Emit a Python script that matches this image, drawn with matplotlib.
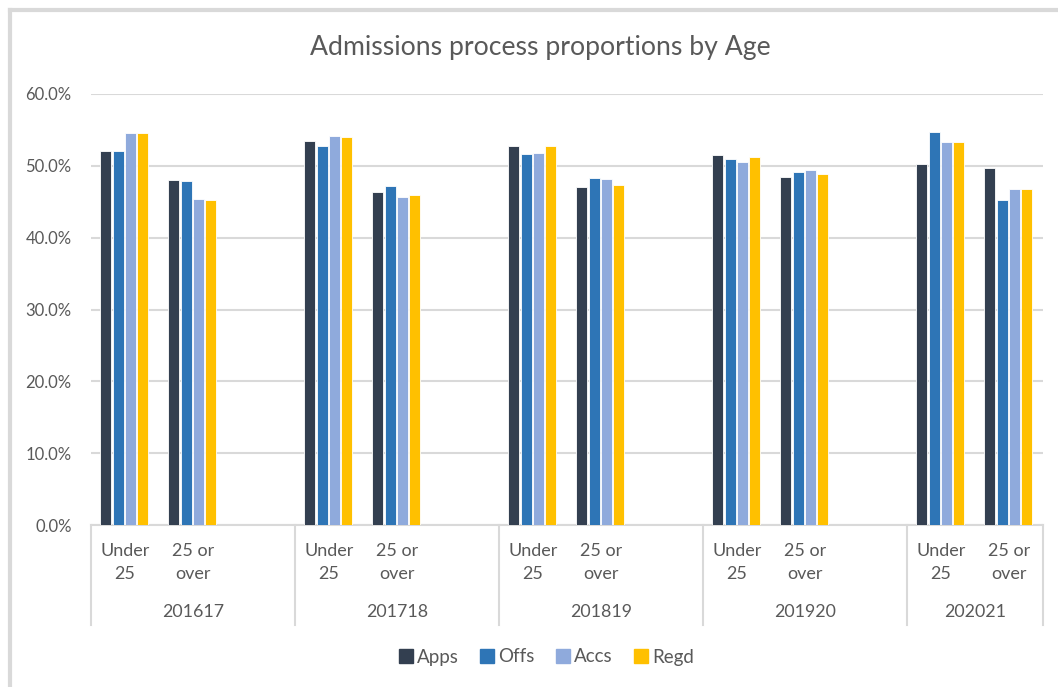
import matplotlib
matplotlib.use("Agg")
import matplotlib.pyplot as plt
import matplotlib.transforms as mtransforms
from matplotlib.lines import Line2D
import numpy as np

plt.rcParams['font.family'] = ['Lato', 'DejaVu Sans']

# data (percent)
years = ['201617', '201718', '201819', '201920', '202021']
ages = ['Under\n25', '25 or\nover']
series = ['Apps', 'Offs', 'Accs', 'Regd']
apps = [52.0, 48.0, 53.5, 46.4, 52.8, 47.1, 51.5, 48.5, 50.2, 49.7]
offs = [52.1, 47.9, 52.8, 47.2, 51.6, 48.3, 50.9, 49.1, 54.7, 45.3]
accs = [54.6, 45.4, 54.2, 45.7, 51.8, 48.2, 50.6, 49.4, 53.3, 46.8]
regd = [54.6, 45.3, 54.0, 45.9, 52.7, 47.3, 51.2, 48.8, 53.3, 46.8]

colors = ['#333f50', '#2e75b6', '#8faadc', '#ffc000']
grid_col = '#d9d9d9'
text_col = '#595959'

fig = plt.figure(figsize=(10.58, 6.87), dpi=100)
ax = fig.add_axes([91 / 1058, 1 - 525 / 687, (1043 - 91) / 1058, (525 - 94) / 687])

# each year takes three slots, the third one is left empty
slots = np.array([3 * g + s for g in range(len(years)) for s in range(len(ages))])
pitch = 0.181
width = 0.16
for i, (name, vals) in enumerate(zip(series, [apps, offs, accs, regd])):
    ax.bar(slots + (i - 1.5) * pitch - 0.01, np.array(vals) / 100, width=width,
           color=colors[i], edgecolor='white', linewidth=0.6, zorder=3, label=name)

ax.set_xlim(-0.5, 13.5)
ax.set_ylim(0, 0.6)
ax.set_yticks(np.arange(0, 0.61, 0.1))
ax.set_yticklabels([f'{v * 100:.1f}%' for v in np.arange(0, 0.61, 0.1)],
                   fontsize=12, color=text_col)
ax.tick_params(axis='y', length=0, pad=14)
ax.yaxis.grid(True, color=grid_col, linewidth=1.5, zorder=0)
ax.set_xticks([])
for sp in ['top', 'right', 'left']:
    ax.spines[sp].set_visible(False)
ax.spines['bottom'].set_color(grid_col)
ax.spines['bottom'].set_linewidth(1.5)

# category labels below the axis
trans = mtransforms.blended_transform_factory(ax.transData, ax.transAxes)
px = 1 / (525 - 94)
for x, lab in zip(slots, ages * len(years)):
    ax.text(x, -18 * px, lab, transform=trans, ha='center', va='top',
            fontsize=13, color=text_col, linespacing=1.55)
for g, yr in enumerate(years):
    start = 3 * g - 0.5
    end = min(3 * g + 2.5, 13.5)
    ax.text((start + end) / 2, -87 * px, yr, transform=trans, ha='center',
            va='center', fontsize=12.8, color=text_col)
bounds = [3 * g - 0.5 for g in range(len(years))] + [13.5]
for b in bounds:
    ax.add_line(Line2D([b, b], [0, -100 * px], transform=trans, color=grid_col,
                       linewidth=1.5, clip_on=False))

fig.text(540 / 1058, 1 - 47 / 687, 'Admissions process proportions by Age',
         ha='center', va='center', fontsize=19.2, color=text_col)

handles = [Line2D([], [], marker='s', linestyle='', markersize=10, color=c) for c in colors]
fig.legend(handles, series, loc='center', bbox_to_anchor=(544 / 1058, 1 - 657 / 687),
           ncol=4, frameon=False, fontsize=13.5, handletextpad=0.0, columnspacing=0.9,
           handlelength=1.2, labelcolor=text_col)

# light frame on the left and top edge
fig.add_artist(Line2D([10 / 1058, 10 / 1058], [0, 1 - 10 / 687], color=grid_col, linewidth=3))
fig.add_artist(Line2D([10 / 1058, 1], [1 - 10 / 687, 1 - 10 / 687], color=grid_col, linewidth=3))

fig.savefig('out.png', dpi=100)
